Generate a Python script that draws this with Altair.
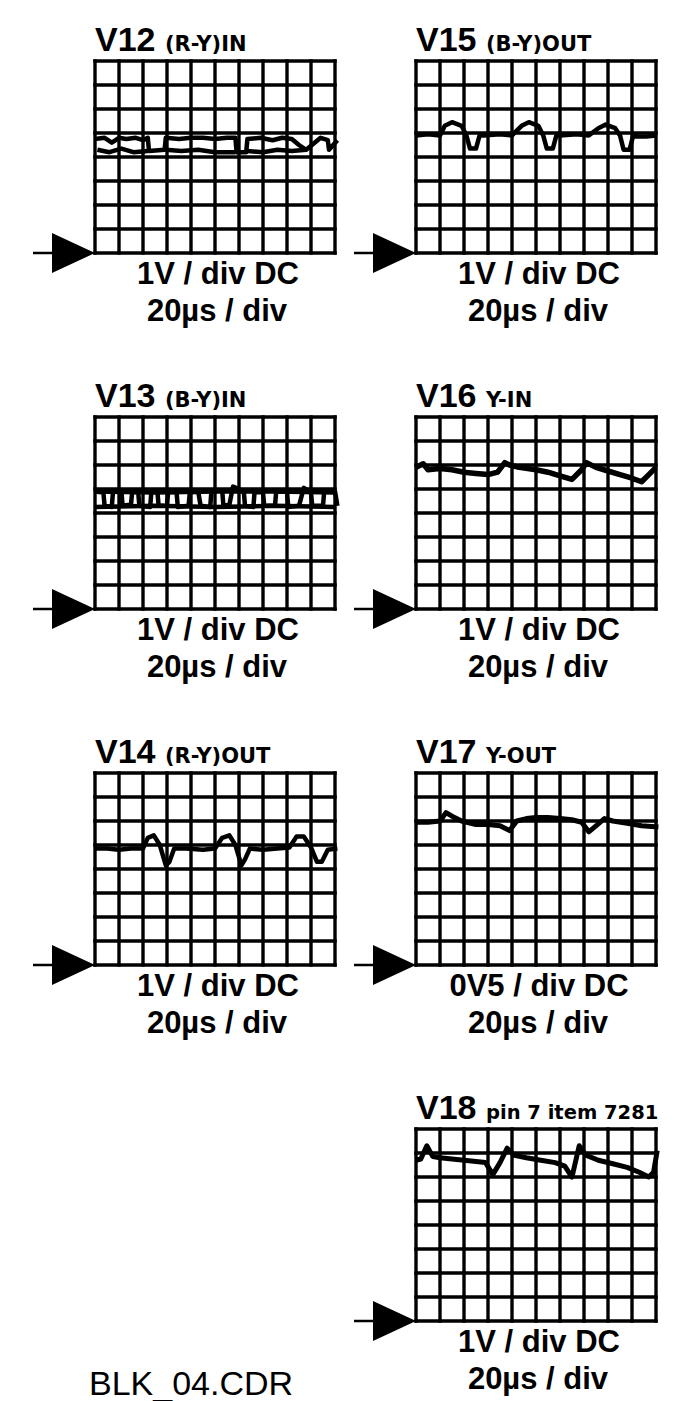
import altair as alt
import pandas as pd

# ---------------- data ----------------
TITLES = ["V12", "V15", "V13", "V16", "V14", "V17", "V18"]
SUBTITLES = ["(R-Y)IN", "(B-Y)OUT", "(B-Y)IN", "Y-IN", "(R-Y)OUT", "Y-OUT", "pin 7 item 7281"]
VSCALES = ["1V / div DC", "1V / div DC", "1V / div DC", "1V / div DC",
           "1V / div DC", "0V5 / div DC", "1V / div DC"]
TSCALE = "20µs / div"
FILENAME = "BLK_04.CDR"
FILENAME_X = 4.0
GRID_X = [0, 1, 2, 3, 4, 5, 6, 7, 8, 9, 10]
GRID_Y = [0, 1, 2, 3, 4, 5, 6, 7, 8]

# V12 (R-Y)IN : upper trace with drops, lower trace segments
V12_X = [0, 0.4, 0.7, 1.0, 1.3, 1.7, 2.0, 2.2, 2.25, 2.9, 2.95, 3.5, 4.0, 4.5, 5.0, 5.5,
         5.85, 5.9, 6.3, 6.35, 6.9, 7.4, 7.8, 8.2, 8.5, 8.8, 9.1, 9.4, 9.7, 9.75, 10.1]
V12_Y = [4.75, 4.8, 4.6, 4.8, 4.75, 4.8, 4.7, 4.8, 4.25, 4.3, 4.8, 4.75, 4.8, 4.8, 4.75, 4.8,
         4.8, 4.2, 4.2, 4.75, 4.8, 4.7, 4.8, 4.75, 4.5, 4.3, 4.55, 4.8, 4.7, 4.3, 4.7]
V12_LOW_X = [0.1, 0.6, 1.1, 1.6, 2.2, 2.95, 3.6, 4.3, 5.0, 5.85, 6.35, 7.0, 7.6, 8.2, 8.8]
V12_LOW_Y = [4.3, 4.2, 4.35, 4.2, 4.25, 4.3, 4.25, 4.3, 4.2, 4.2, 4.25, 4.2, 4.3, 4.25, 4.3]
V12_LOW_S = [1, 1, 1, 1, 1, 2, 2, 2, 2, 2, 3, 3, 3, 3, 3]

# V15 (B-Y)OUT
V15_X = [0, 0.5, 1.0, 1.2, 1.5, 1.9, 2.1, 2.25, 2.5, 2.65, 2.8, 3.5, 4.0, 4.4, 4.7, 5.1,
         5.3, 5.45, 5.7, 5.85, 6.0, 6.7, 7.2, 7.6, 7.9, 8.3, 8.5, 8.65, 8.9, 9.05, 9.2, 9.6, 10.0]
V15_Y = [4.9, 4.95, 4.9, 5.3, 5.45, 5.3, 4.9, 4.35, 4.35, 4.9, 4.9, 4.95, 4.9, 5.3, 5.45, 5.3,
         4.9, 4.35, 4.35, 4.9, 4.9, 4.95, 4.9, 5.2, 5.35, 5.2, 4.9, 4.3, 4.3, 4.9, 4.85, 4.85, 4.9]

# V13 (B-Y)IN : ladder-like band between ~4.25 and ~4.9
V13_X = [0, 0.35, 0.4, 0.7, 0.75, 1.1, 1.15, 1.5, 1.55, 1.8, 1.85, 2.3, 2.35, 2.6, 2.65, 3.0,
         3.05, 3.4, 3.45, 3.9, 3.95, 4.3, 4.4, 4.8, 4.85, 5.3, 5.35, 5.6, 5.75, 6.2, 6.25, 6.6,
         6.65, 7.0, 7.05, 7.5, 7.55, 8.0, 8.05, 8.5, 8.7, 9.0, 9.05, 9.5, 9.55, 10.0, 10.1]
V13_Y = [4.9, 4.85, 4.3, 4.25, 4.9, 4.9, 4.3, 4.35, 4.9, 4.85, 4.3, 4.25, 4.9, 4.9, 4.3, 4.3,
         4.9, 4.85, 4.25, 4.3, 4.85, 4.9, 4.3, 4.25, 4.9, 4.95, 4.3, 4.35, 5.1, 4.9, 4.3, 4.25,
         4.9, 4.85, 4.3, 4.3, 4.9, 4.9, 4.25, 4.3, 5.05, 4.85, 4.3, 4.3, 4.9, 4.9, 4.3]
V13_TOP_X = [0, 2.5, 5.0, 7.5, 10.0]
V13_TOP_Y = [4.9, 4.85, 4.9, 4.9, 4.85]
V13_BOT_X = [0, 2.5, 5.0, 7.5, 10.0]
V13_BOT_Y = [4.25, 4.3, 4.25, 4.3, 4.25]

# V16 Y-IN
V16_X = [0, 0.3, 0.5, 1.0, 1.5, 2.0, 2.5, 3.0, 3.4, 3.7, 3.9, 4.3, 5.0, 5.5, 6.0, 6.5,
         6.9, 7.1, 7.5, 8.0, 8.5, 9.0, 9.4, 9.7, 10.0]
V16_Y = [5.9, 6.05, 5.8, 5.85, 5.8, 5.7, 5.65, 5.6, 5.7, 6.1, 6.0, 5.9, 5.8, 5.7, 5.55, 5.4,
         5.8, 6.1, 5.9, 5.75, 5.6, 5.45, 5.3, 5.6, 5.9]

# V14 (R-Y)OUT
V14_X = [0, 0.5, 1.0, 1.5, 2.0, 2.2, 2.45, 2.7, 2.95, 3.1, 3.3, 3.8, 4.5, 5.0, 5.3, 5.6,
         5.85, 6.1, 6.25, 6.45, 7.0, 7.6, 8.1, 8.4, 8.7, 9.0, 9.25, 9.45, 9.7, 10.1]
V14_Y = [4.85, 4.85, 4.8, 4.85, 4.85, 5.3, 5.4, 5.0, 4.15, 4.3, 4.85, 4.85, 4.8, 4.85, 5.3, 5.4,
         5.0, 4.15, 4.4, 4.85, 4.8, 4.85, 4.9, 5.35, 5.35, 4.9, 4.3, 4.3, 4.8, 4.85]

# V17 Y-OUT
V17_X = [0, 0.5, 1.0, 1.25, 1.5, 1.9, 2.5, 3.0, 3.5, 3.9, 4.2, 4.6, 5.0, 5.5, 6.0, 6.5,
         6.9, 7.2, 7.5, 7.85, 8.2, 8.8, 9.4, 10.1]
V17_Y = [5.95, 5.95, 6.0, 6.35, 6.2, 6.0, 5.85, 5.85, 5.8, 5.6, 6.0, 6.1, 6.15, 6.15, 6.1, 6.05,
         5.95, 5.55, 5.8, 6.1, 6.0, 5.9, 5.8, 5.75]

# V18 pin 7 item 7281
V18_X = [0, 0.2, 0.45, 0.7, 1.0, 1.5, 2.0, 2.5, 2.9, 3.2, 3.5, 3.8, 4.1, 4.6, 5.2, 5.8,
         6.2, 6.5, 6.8, 7.1, 7.6, 8.2, 8.8, 9.3, 9.7, 9.9, 10.05]
V18_Y = [6.7, 6.75, 7.3, 6.85, 6.8, 6.75, 6.7, 6.65, 6.6, 6.1, 6.6, 7.2, 6.9, 6.8, 6.7, 6.6,
         6.45, 6.0, 7.3, 6.9, 6.7, 6.55, 6.4, 6.2, 6.0, 6.2, 7.1]

# ---------------- styles ----------------
W, H = 240, 192
XS = alt.Scale(domain=[GRID_X[0], GRID_X[-1]], nice=False, zero=False)
YS = alt.Scale(domain=[GRID_Y[0], GRID_Y[-1]], nice=False, zero=False)
FONT = "Liberation Sans"
WIDE = "DejaVu Sans"
SUB_SIZES = [21, 21, 21, 21, 21, 21, 19.5]
ARROW = "M0,0L-2.15,-1L-2.15,-0.065L-3.1,-0.065L-3.1,0.065L-2.15,0.065L-2.15,1Z"


def series(parts):
    rows = []
    for sid, (xs, ys) in enumerate(parts):
        for i, (x, y) in enumerate(zip(xs, ys)):
            rows.append({"x": x, "y": y, "s": sid, "i": i})
    return pd.DataFrame(rows)


def enc_xy():
    return dict(x=alt.X("x:Q", scale=XS, axis=None), y=alt.Y("y:Q", scale=YS, axis=None))


def panel(k, parts, width_line=4.5):
    title, sub, vs = TITLES[k], SUBTITLES[k], VSCALES[k]
    vdf = pd.DataFrame({"x": GRID_X, "y": GRID_Y[0], "y2": GRID_Y[-1]})
    hdf = pd.DataFrame({"y": GRID_Y, "x": GRID_X[0], "x2": GRID_X[-1]})
    vgrid = alt.Chart(vdf).mark_rule(color="black", strokeWidth=3.4, strokeCap="square").encode(
        y2="y2:Q", **enc_xy())
    hgrid = alt.Chart(hdf).mark_rule(color="black", strokeWidth=3.4, strokeCap="square").encode(
        x2="x2:Q", **enc_xy())
    trace = alt.Chart(series(parts)).mark_line(color="black", strokeWidth=width_line,
                                               strokeJoin="round").encode(
        detail="s:N", order="i:Q", **enc_xy())
    corner = pd.DataFrame({"x": [GRID_X[0]], "y": [GRID_Y[-1]], "t": [title], "u": [sub]})
    ttl = alt.Chart(corner).mark_text(align="left", baseline="alphabetic", font=FONT,
                                      fontSize=34, fontWeight="bold", dy=-10, color="black").encode(
        text="t:N", **enc_xy())
    subt = alt.Chart(corner).mark_text(align="left", baseline="alphabetic", font=WIDE,
                                       fontSize=SUB_SIZES[k], fontWeight="bold", dx=70, dy=-10,
                                       color="black").encode(text="u:N", **enc_xy())
    bottom = pd.DataFrame({"x": [(GRID_X[0] + GRID_X[-1]) / 2], "y": [GRID_Y[0]],
                           "v": [vs], "t": [TSCALE]})
    lab1 = alt.Chart(bottom).mark_text(align="center", baseline="alphabetic", font=FONT,
                                       fontSize=31, fontWeight="bold", dx=3, dy=31, color="black").encode(
        text="v:N", **enc_xy())
    lab2 = alt.Chart(bottom).mark_text(align="center", baseline="alphabetic", font=FONT,
                                       fontSize=31, fontWeight="bold", dx=2, dy=68, color="black").encode(
        text="t:N", **enc_xy())
    origin = pd.DataFrame({"x": [GRID_X[0]], "y": [GRID_Y[0]]})
    arrow = alt.Chart(origin).mark_point(shape=ARROW, size=1600, filled=True, color="black",
                                         opacity=1, strokeWidth=0).encode(**enc_xy())
    return alt.layer(vgrid, hgrid, trace, arrow, ttl, subt, lab1, lab2).properties(width=W, height=H)


def blank():
    df = pd.DataFrame({"x": [FILENAME_X], "y": [GRID_Y[0]], "t": [FILENAME]})
    return alt.Chart(df).mark_text(align="center", baseline="alphabetic", font=FONT,
                                   fontSize=34, dy=74, color="black").encode(
        text="t:N", **enc_xy()).properties(width=W, height=H)


p12 = panel(0, [(V12_X, V12_Y)] + [
    ([x for x, s in zip(V12_LOW_X, V12_LOW_S) if s == seg],
     [y for y, s in zip(V12_LOW_Y, V12_LOW_S) if s == seg]) for seg in (1, 2, 3)])
p15 = panel(1, [(V15_X, V15_Y)])
p13 = panel(2, [(V13_X, V13_Y), (V13_TOP_X, V13_TOP_Y), (V13_BOT_X, V13_BOT_Y)])
p16 = panel(3, [(V16_X, V16_Y)], width_line=5.5)
p14 = panel(4, [(V14_X, V14_Y)])
p17 = panel(5, [(V17_X, V17_Y)], width_line=5)
p18 = panel(6, [(V18_X, V18_Y)], width_line=5)

chart = alt.concat(p12, p15, p13, p16, p14, p17, blank(), p18, columns=2,
                   spacing={"row": 164, "column": 81}, bounds="flush").properties(
    padding={"left": 25, "top": 16, "right": 0, "bottom": 0},
    background="white",
).configure_view(strokeWidth=0)

chart.save("out.html", embed_options={"renderer": "svg", "actions": False})
